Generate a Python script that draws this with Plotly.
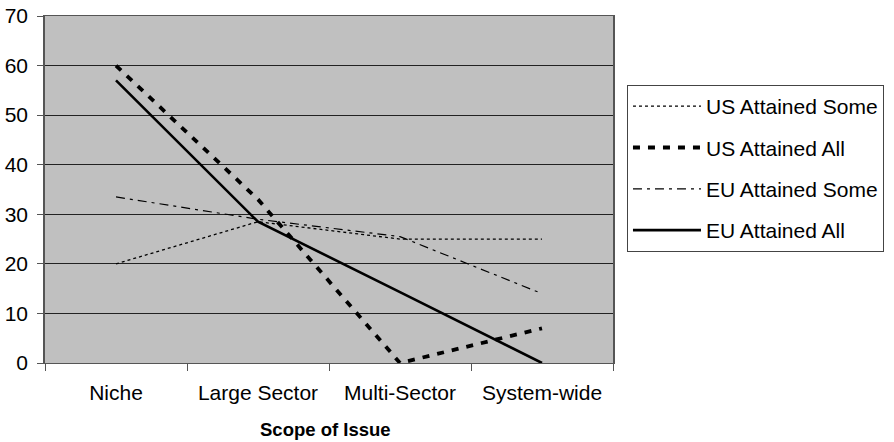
import plotly.graph_objects as go

categories = ["Niche", "Large Sector", "Multi-Sector", "System-wide"]
us_some = [20, 28.5, 25, 25]
us_all = [60, 33, 0, 7]
eu_some = [33.5, 29, 25.5, 14]
eu_all = [57, 28.5, 14.3, 0]
y_ticks = [0, 10, 20, 30, 40, 50, 60, 70]

fig = go.Figure()
styles = [
    ("US Attained Some", us_some, "3px,3px", 1.3),
    ("US Attained All", us_all, "7px,8px", 3.8),
    ("EU Attained Some", eu_some, "9px,5px,3px,5px", 1.2),
    ("EU Attained All", eu_all, "solid", 2.6),
]
for i, (name, vals, dash, w) in enumerate(styles):
    fig.add_trace(go.Scatter(
        x=categories, y=vals, mode="lines", name=name,
        line=dict(color="black", dash=dash, width=w),
        legendgroup=f"g{i}",
    ))

font = "Liberation Sans, Arial, sans-serif"
fig.update_layout(
    width=894, height=442,
    margin=dict(l=45, r=281, t=16, b=79, autoexpand=False),
    paper_bgcolor="white",
    plot_bgcolor="#C0C0C0",
    font=dict(family=font, size=21, color="black"),
    showlegend=True,
    legend=dict(
        x=1.0246, xanchor="left", y=0.801, yanchor="top",
        bgcolor="white", bordercolor="#444", borderwidth=1,
        font=dict(size=21), tracegroupgap=11, itemwidth=68,
    ),
    xaxis=dict(
        type="category", categoryorder="array", categoryarray=categories,
        range=[-0.5, 3.5], automargin=False,
        tickson="boundaries", ticks="outside", ticklen=7, tickcolor="#555",
        showgrid=False, showline=True, linecolor="#555", linewidth=1,
        mirror=True, ticklabelstandoff=11,
        zeroline=False,
    ),
    yaxis=dict(
        range=[0, 70], tickvals=y_ticks, ticks="outside", ticklen=6,
        automargin=False,
        tickcolor="#555", showgrid=True, gridcolor="#222", gridwidth=1,
        showline=True, linecolor="#555", linewidth=1.5, mirror=True,
        zeroline=False, ticklabelstandoff=5,
    ),
    annotations=[dict(
        text="<b>Scope of Issue</b>", xref="paper", yref="paper",
        x=(325 - 45) / 568, y=(363 - 429) / 347, xanchor="center", yanchor="middle",
        showarrow=False, font=dict(size=18.5),
    )],
)
fig.write_html("out.html", config={"displayModeBar": False},
               post_script="document.body.style.margin='0';")
